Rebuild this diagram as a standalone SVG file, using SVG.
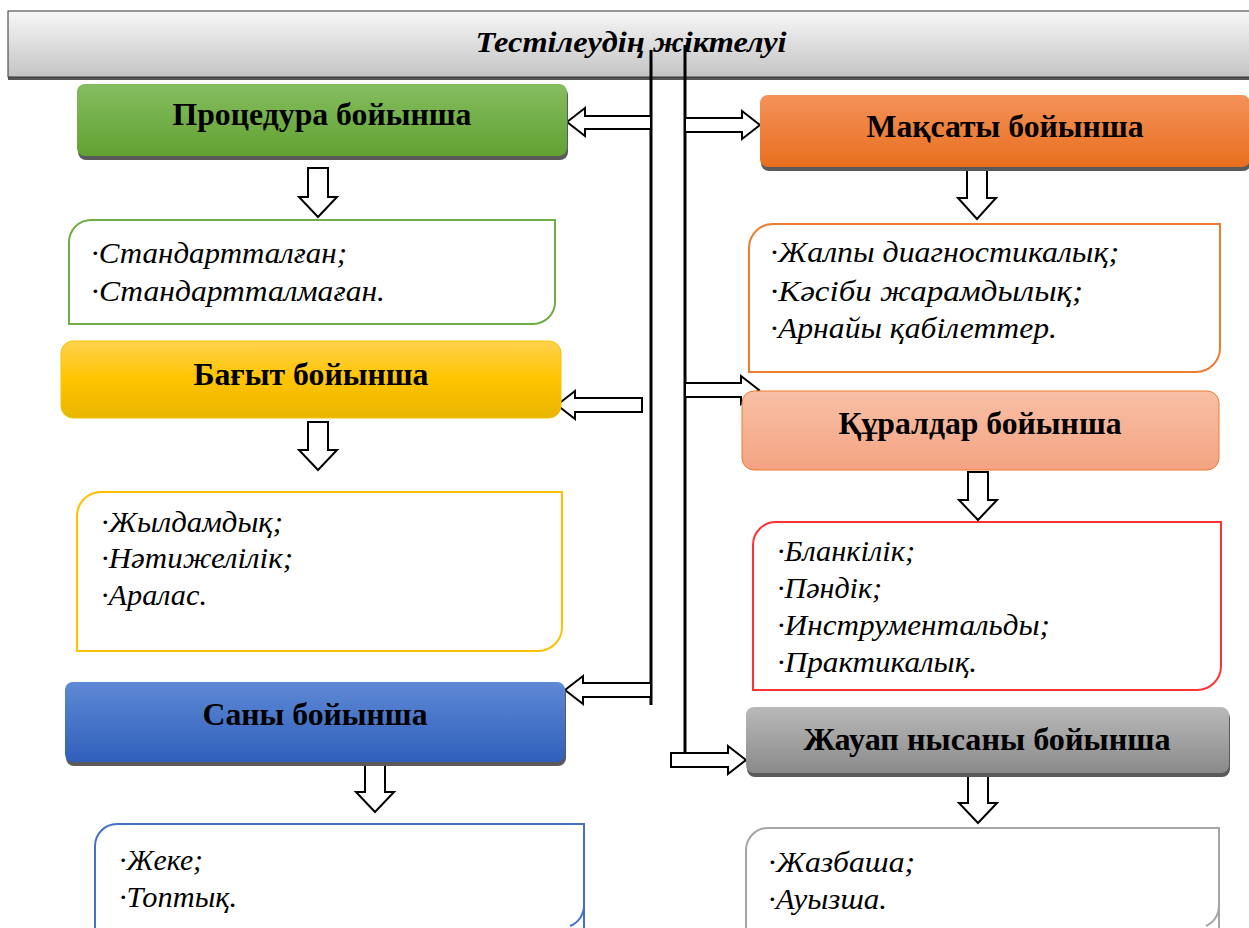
<svg xmlns="http://www.w3.org/2000/svg" width="1249" height="928" viewBox="0 0 1249 928">
<defs>
<linearGradient id="gTitle" x1="0" y1="0" x2="0" y2="1"><stop offset="0" stop-color="#f7f7f7"/><stop offset="1" stop-color="#c4c4c4"/></linearGradient>
<linearGradient id="gGreen" x1="0" y1="0" x2="0" y2="1"><stop offset="0" stop-color="#84bd60"/><stop offset="1" stop-color="#62a232"/></linearGradient>
<linearGradient id="gGold" x1="0" y1="0" x2="0" y2="1"><stop offset="0" stop-color="#ffd24e"/><stop offset="0.5" stop-color="#ffc400"/><stop offset="1" stop-color="#e8b500"/></linearGradient>
<linearGradient id="gBlue" x1="0" y1="0" x2="0" y2="1"><stop offset="0" stop-color="#5f89d6"/><stop offset="1" stop-color="#2e5fba"/></linearGradient>
<linearGradient id="gOrange" x1="0" y1="0" x2="0" y2="1"><stop offset="0" stop-color="#f4925a"/><stop offset="1" stop-color="#e86e1e"/></linearGradient>
<linearGradient id="gSalmon" x1="0" y1="0" x2="0" y2="1"><stop offset="0" stop-color="#f8c0a6"/><stop offset="1" stop-color="#f4a381"/></linearGradient>
<linearGradient id="gGray" x1="0" y1="0" x2="0" y2="1"><stop offset="0" stop-color="#b9b9b9"/><stop offset="1" stop-color="#8a8a8a"/></linearGradient>
</defs>
<style>
.hd{font-family:"Liberation Serif","Times New Roman",serif;font-weight:bold;font-size:31px;fill:#000;text-anchor:middle}
.it{font-family:"Liberation Serif","Times New Roman",serif;font-style:italic;font-size:29px;fill:#000}
.shadow{fill:#5a5a5a}
.cb{fill:#fff;stroke-width:2}
.ar{fill:#fff;stroke:#000;stroke-width:2;stroke-linejoin:miter}
.vl{stroke:#000;stroke-width:3;fill:none}
</style>

<g id="title">
<rect x="8" y="12" width="1250" height="68" fill="#555"/>
<rect x="8" y="11" width="1250" height="66" fill="url(#gTitle)" stroke="#333" stroke-width="1"/>
<text x="631" y="52" font-family="Liberation Serif,'Times New Roman',serif" font-weight="bold" font-style="italic" font-size="29" text-anchor="middle" textLength="311" lengthAdjust="spacingAndGlyphs">Тестілеудің жіктелуі</text>
</g>

<g id="connectors">
<line class="vl" x1="651" y1="50" x2="651" y2="705"/>
<line class="vl" x1="685" y1="45" x2="685" y2="752"/>
<polygon class="ar" points="567,122 585,108 585,116 651,116 651,129 585,129 585,136"/>
<polygon class="ar" points="557,405 575,391 575,398 642,398 642,412 575,412 575,419"/>
<polygon class="ar" points="565,690 583,676 583,683 651,683 651,697 583,697 583,704"/>
<polygon class="ar" points="760,125 742,111 742,118 685,118 685,132 742,132 742,139"/>
<polygon class="ar" points="759,390 741,376 741,383 685,383 685,397 741,397 741,404"/>
<polygon class="ar" points="746,760 728,746 728,753 671,753 671,767 728,767 728,774"/>
<polygon class="ar" points="318,217 299,197 308,197 308,168 328,168 328,197 337,197"/>
<polygon class="ar" points="318,470 299,450 308,450 308,422 328,422 328,450 337,450"/>
<polygon class="ar" points="375,812 356,792 365,792 365,763 385,763 385,792 394,792"/>
<polygon class="ar" points="977,219 958,198 967,198 967,169 987,169 987,198 996,198"/>
<polygon class="ar" points="978,520 959,500 968,500 968,472 988,472 988,500 997,500"/>
<polygon class="ar" points="978,823 959,803 968,803 968,773 988,773 988,803 997,803"/>
</g>

<g id="procedure">
<rect class="shadow" x="78" y="87" width="490" height="73" rx="8"/>
<rect x="77" y="84" width="490" height="72" rx="8" fill="url(#gGreen)"/>
<text class="hd" x="322" y="125" textLength="299" lengthAdjust="spacingAndGlyphs">Процедура бойынша</text>
</g>
<g id="procedure-items">
<path class="cb" stroke="#70ad47" d="M91,220 H555 V302 A22,22 0 0 1 533,324 H69 V242 A22,22 0 0 1 91,220 Z"/>
<text class="it" x="91" y="263" textLength="256" lengthAdjust="spacingAndGlyphs">·Стандартталған;</text>
<text class="it" x="91" y="301" textLength="294" lengthAdjust="spacingAndGlyphs">·Стандартталмаған.</text>
</g>

<g id="direction">
<rect x="61" y="341" width="500" height="77" rx="12" fill="url(#gGold)" stroke="#f5c400" stroke-width="1"/>
<text class="hd" x="311" y="385" textLength="235" lengthAdjust="spacingAndGlyphs">Бағыт бойынша</text>
</g>
<g id="direction-items">
<path class="cb" stroke="#ffc000" d="M101,492 H562 V627 A24,24 0 0 1 538,651 H77 V516 A24,24 0 0 1 101,492 Z"/>
<text class="it" x="101" y="532" textLength="182" lengthAdjust="spacingAndGlyphs">·Жылдамдық;</text>
<text class="it" x="101" y="568" textLength="192" lengthAdjust="spacingAndGlyphs">·Нәтижелілік;</text>
<text class="it" x="101" y="605" textLength="106" lengthAdjust="spacingAndGlyphs">·Аралас.</text>
</g>

<g id="number">
<rect class="shadow" x="66" y="685" width="500" height="81" rx="8"/>
<rect x="65" y="682" width="500" height="80" rx="8" fill="url(#gBlue)"/>
<text class="hd" x="315" y="725" textLength="225" lengthAdjust="spacingAndGlyphs">Саны бойынша</text>
</g>
<g id="number-items">
<path class="cb" stroke="#4472c4" d="M117,824 H584 V940 H95 V846 A22,22 0 0 1 117,824 Z"/>
<text class="it" x="119" y="870" textLength="84" lengthAdjust="spacingAndGlyphs">·Жеке;</text>
<text class="it" x="119" y="907" textLength="118" lengthAdjust="spacingAndGlyphs">·Топтық.</text>
<path d="M584,905 A22,22 0 0 1 570,926" fill="none" stroke="#4472c4" stroke-width="2"/>
</g>

<g id="purpose">
<rect class="shadow" x="761" y="98" width="490" height="73" rx="8"/>
<rect x="760" y="95" width="490" height="72" rx="8" fill="url(#gOrange)"/>
<text class="hd" x="1005" y="137" textLength="277" lengthAdjust="spacingAndGlyphs">Мақсаты бойынша</text>
</g>
<g id="purpose-items">
<path class="cb" stroke="#ed7d31" d="M773,224 H1220 V348 A24,24 0 0 1 1196,372 H749 V248 A24,24 0 0 1 773,224 Z"/>
<text class="it" x="770" y="262" textLength="349" lengthAdjust="spacingAndGlyphs">·Жалпы диагностикалық;</text>
<text class="it" x="770" y="301" textLength="313" lengthAdjust="spacingAndGlyphs">·Кәсіби жарамдылық;</text>
<text class="it" x="770" y="338" textLength="287" lengthAdjust="spacingAndGlyphs">·Арнайы қабілеттер.</text>
</g>

<g id="tools">
<rect x="742" y="391" width="477" height="79" rx="12" fill="url(#gSalmon)" stroke="#ed7d31" stroke-width="1"/>
<text class="hd" x="980" y="434" textLength="283" lengthAdjust="spacingAndGlyphs">Құралдар бойынша</text>
</g>
<g id="tools-items">
<path class="cb" stroke="#ff3333" d="M776,522 H1221 V666 A24,24 0 0 1 1197,690 H753 V545 A23,23 0 0 1 776,522 Z"/>
<text class="it" x="777" y="561" textLength="138" lengthAdjust="spacingAndGlyphs">·Бланкілік;</text>
<text class="it" x="777" y="598" textLength="105" lengthAdjust="spacingAndGlyphs">·Пәндік;</text>
<text class="it" x="777" y="635" textLength="273" lengthAdjust="spacingAndGlyphs">·Инструментальды;</text>
<text class="it" x="777" y="672" textLength="200" lengthAdjust="spacingAndGlyphs">·Практикалық.</text>
</g>

<g id="response">
<rect class="shadow" x="747" y="710" width="483" height="67" rx="8"/>
<rect x="746" y="707" width="483" height="66" rx="8" fill="url(#gGray)"/>
<text class="hd" x="987" y="750" textLength="367" lengthAdjust="spacingAndGlyphs">Жауап нысаны бойынша</text>
</g>
<g id="response-items">
<path class="cb" stroke="#a5a5a5" d="M768,828 H1219 V940 H746 V850 A22,22 0 0 1 768,828 Z"/>
<path d="M1219,905 A22,22 0 0 1 1206,926" fill="none" stroke="#a5a5a5" stroke-width="2"/>
<text class="it" x="768" y="872" textLength="147" lengthAdjust="spacingAndGlyphs">·Жазбаша;</text>
<text class="it" x="768" y="909" textLength="119" lengthAdjust="spacingAndGlyphs">·Ауызша.</text>
</g>
</svg>
